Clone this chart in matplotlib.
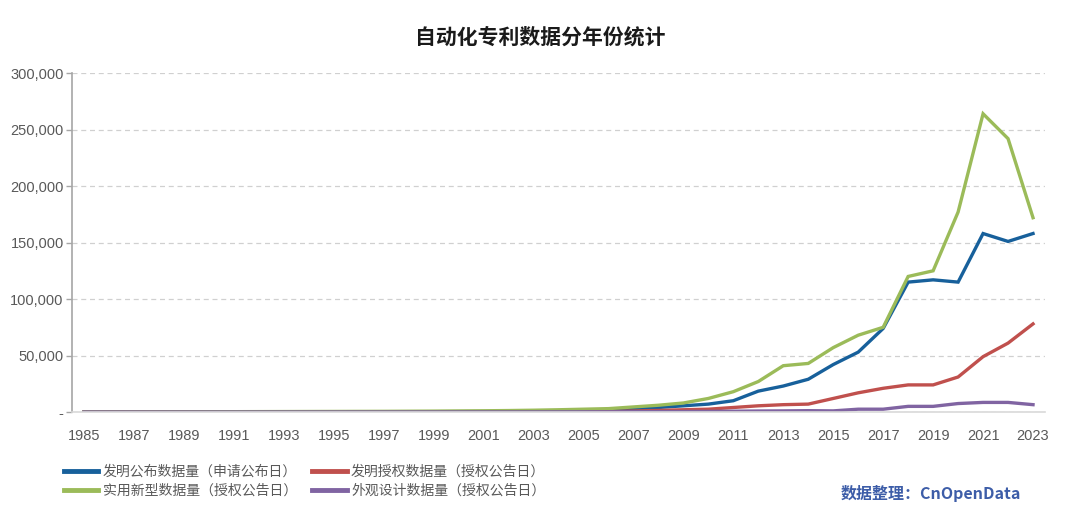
import matplotlib
matplotlib.use("Agg")
import matplotlib.pyplot as plt
from matplotlib.ticker import FuncFormatter, FixedLocator

plt.rcParams['font.family'] = ['Noto Sans CJK SC', 'DejaVu Sans']

years = list(range(1985, 2024))
invention_pub = [30, 40, 50, 60, 70, 80, 90, 100, 120, 140, 160, 180, 200, 250, 300, 350, 400, 500, 600, 800,
                 1000, 1500, 2500, 4000, 5500, 7000, 10000, 18500, 23000, 29000, 42000, 53000, 74000, 115000,
                 117000, 115000, 158000, 151000, 158000]
invention_grant = [5, 10, 15, 20, 25, 30, 35, 40, 50, 60, 70, 80, 90, 100, 120, 150, 180, 220, 280, 350,
                   450, 600, 900, 1400, 2000, 2500, 4000, 5500, 6500, 7000, 12000, 17000, 21000, 24000,
                   24000, 31000, 49000, 61000, 78000]
utility = [50, 80, 100, 150, 200, 250, 300, 350, 400, 450, 500, 550, 600, 700, 800, 950, 1100, 1300, 1600, 2000,
           2500, 3000, 4500, 6000, 8000, 12000, 18000, 27000, 41000, 43000, 57000, 68000, 75000, 120000,
           125000, 177000, 264000, 242000, 172000]
design = [5, 5, 10, 10, 15, 20, 20, 25, 30, 35, 40, 45, 50, 60, 70, 80, 90, 100, 120, 150,
          180, 220, 280, 350, 450, 550, 700, 900, 1000, 1200, 1000, 2500, 2500, 5000,
          5000, 7500, 8500, 8500, 6500]

series_labels = ['发明公布数据量（申请公布日）', '发明授权数据量（授权公告日）',
                 '实用新型数据量（授权公告日）', '外观设计数据量（授权公告日）']
colors = ['#17609B', '#C0504D', '#9BBB59', '#8064A2']
x_ticks = list(range(1985, 2024, 2))
y_ticks = [0, 50000, 100000, 150000, 200000, 250000, 300000]

fig = plt.figure(figsize=(10.8, 5.26), dpi=100)
ax = fig.add_axes([0.0667, 0.2167, 0.9009, 0.6443])

lines = []
for vals, c, lab in zip([invention_pub, invention_grant, utility, design], colors, series_labels):
    ln, = ax.plot(years, vals, color=c, lw=2.4, label=lab, solid_joinstyle='miter')
    lines.append(ln)

ax.set_xlim(1984.52, 2023.48)
ax.set_ylim(0, 300000)
ax.xaxis.set_major_locator(FixedLocator(x_ticks))
ax.yaxis.set_major_locator(FixedLocator(y_ticks))
ax.yaxis.set_major_formatter(FuncFormatter(lambda v, p: '-' if v == 0 else f'{int(v):,}'))

ax.grid(axis='y', linestyle=(0, (4, 3)), color='#D0D0D0', lw=0.9)
ax.set_axisbelow(True)
for s in ['top', 'right']:
    ax.spines[s].set_visible(False)
ax.spines['left'].set_color('#A6A6A6')
ax.spines['left'].set_linewidth(1.2)
ax.spines['bottom'].set_color('#D9D9D9')
ax.spines['bottom'].set_linewidth(1.2)

ax.tick_params(axis='y', colors='#A6A6A6', labelcolor='#595959', labelsize=10.5, length=4, width=1, pad=2)
ax.tick_params(axis='x', length=0, labelcolor='#595959', labelsize=10.5, pad=12)
for lab in ax.get_xticklabels() + ax.get_yticklabels():
    lab.set_family(['Liberation Sans', 'DejaVu Sans'])

fig.text(0.5, 0.93, '自动化专利数据分年份统计', ha='center', va='center',
         fontsize=15, fontweight='bold', color='#1A1A1A')

order = [0, 2, 1, 3]
leg = fig.legend(handles=[lines[i] for i in order],
                 labels=[series_labels[i] for i in order],
                 loc='upper left', bbox_to_anchor=(0.05, 0.135), ncol=2, frameon=False,
                 fontsize=10, handlelength=2.5, handletextpad=0.3, columnspacing=1.1,
                 labelspacing=0.35, labelcolor='#595959', borderpad=0.2)
for h in leg.legend_handles:
    h.set_linewidth(3.5)

fig.text(0.945, 0.062, '数据整理：CnOpenData', ha='right', va='center',
         fontsize=11.5, fontweight='bold', color='#3D5DA8')

fig.savefig('out.png', dpi=100)
